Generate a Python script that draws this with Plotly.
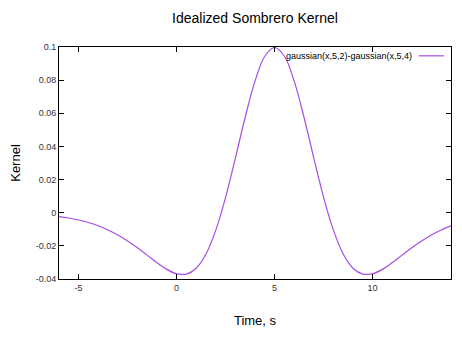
import plotly.graph_objects as go

time_s = [-6, -5.5, -5, -4.5, -4, -3.5, -3, -2.5, -2, -1.5, -1, -0.5, 0, 0.3, 0.5, 1, 1.5, 2, 2.5,
          3, 3.5, 4, 4.5, 5, 5.5, 6, 6.5, 7, 7.5, 8, 8.5, 9, 9.5, 9.7, 10, 10.5, 11, 11.5,
          12, 12.5, 13, 13.5, 14]
kernel = [-0.0023, -0.0032, -0.0044, -0.0059, -0.0079, -0.0104, -0.0134, -0.0170, -0.0211,
          -0.0256, -0.0302, -0.0342, -0.0369, -0.0372, -0.0371, -0.0335, -0.0249, -0.0105,
          0.0093, 0.0330, 0.0576, 0.0794, 0.0944, 0.0997, 0.0944, 0.0794, 0.0576, 0.0330,
          0.0093, -0.0105, -0.0249, -0.0335, -0.0371, -0.0372, -0.0369, -0.0342, -0.0302,
          -0.0256, -0.0211, -0.0170, -0.0134, -0.0104, -0.0079]

series_name = "gaussian(x,5,2)-gaussian(x,5,4)"
x_ticks = [-5, 0, 5, 10]
y_ticks = [-0.04, -0.02, 0, 0.02, 0.04, 0.06, 0.08, 0.1]
y_tick_text = ["-0.04", "-0.02", "0", "0.02", "0.04", "0.06", "0.08", "0.1"]

line_color = "#a64de4"
font_family = "Liberation Sans, Arial"

fig = go.Figure()
fig.add_trace(go.Scatter(
    x=time_s, y=kernel, mode="lines",
    line=dict(color=line_color, width=1.2, shape="spline", smoothing=1.0),
    name=series_name, showlegend=False))

axis_common = dict(showgrid=False, zeroline=False, showline=True, linecolor="black", linewidth=1,
                   mirror="allticks", ticks="inside", ticklen=5, tickcolor="black",
                   tickfont=dict(family=font_family, size=9, color="#333333"))

# gnuplot-style key: text followed by line sample, top right inside the plot
fig.add_annotation(text=series_name, xref="paper", yref="paper", x=0.905, y=0.962,
                   xanchor="right", yanchor="middle", showarrow=False,
                   font=dict(family=font_family, size=9, color="black"))
fig.add_shape(type="line", xref="paper", yref="paper", x0=0.918, x1=0.982, y0=0.962, y1=0.962,
              line=dict(color=line_color, width=1.2))

fig.update_layout(
    width=462, height=337,
    margin=dict(l=59, r=11, t=47, b=58),
    paper_bgcolor="white", plot_bgcolor="white",
    title=dict(text="Idealized Sombrero Kernel", x=0.5, xref="paper", xanchor="center",
               y=0.945, yanchor="middle",
               font=dict(family=font_family, size=14, color="black")),
    xaxis=dict(range=[-6, 14], tickvals=x_ticks, ticktext=[str(v) for v in x_ticks],
               title=dict(text="Time, s", font=dict(family=font_family, size=13, color="black"), standoff=24),
               **axis_common),
    yaxis=dict(range=[-0.04, 0.1], tickvals=y_ticks, ticktext=y_tick_text,
               title=dict(text="Kernel", font=dict(family=font_family, size=13, color="black"), standoff=12),
               **axis_common),
    showlegend=False,
)

fig.write_html("out.html")
